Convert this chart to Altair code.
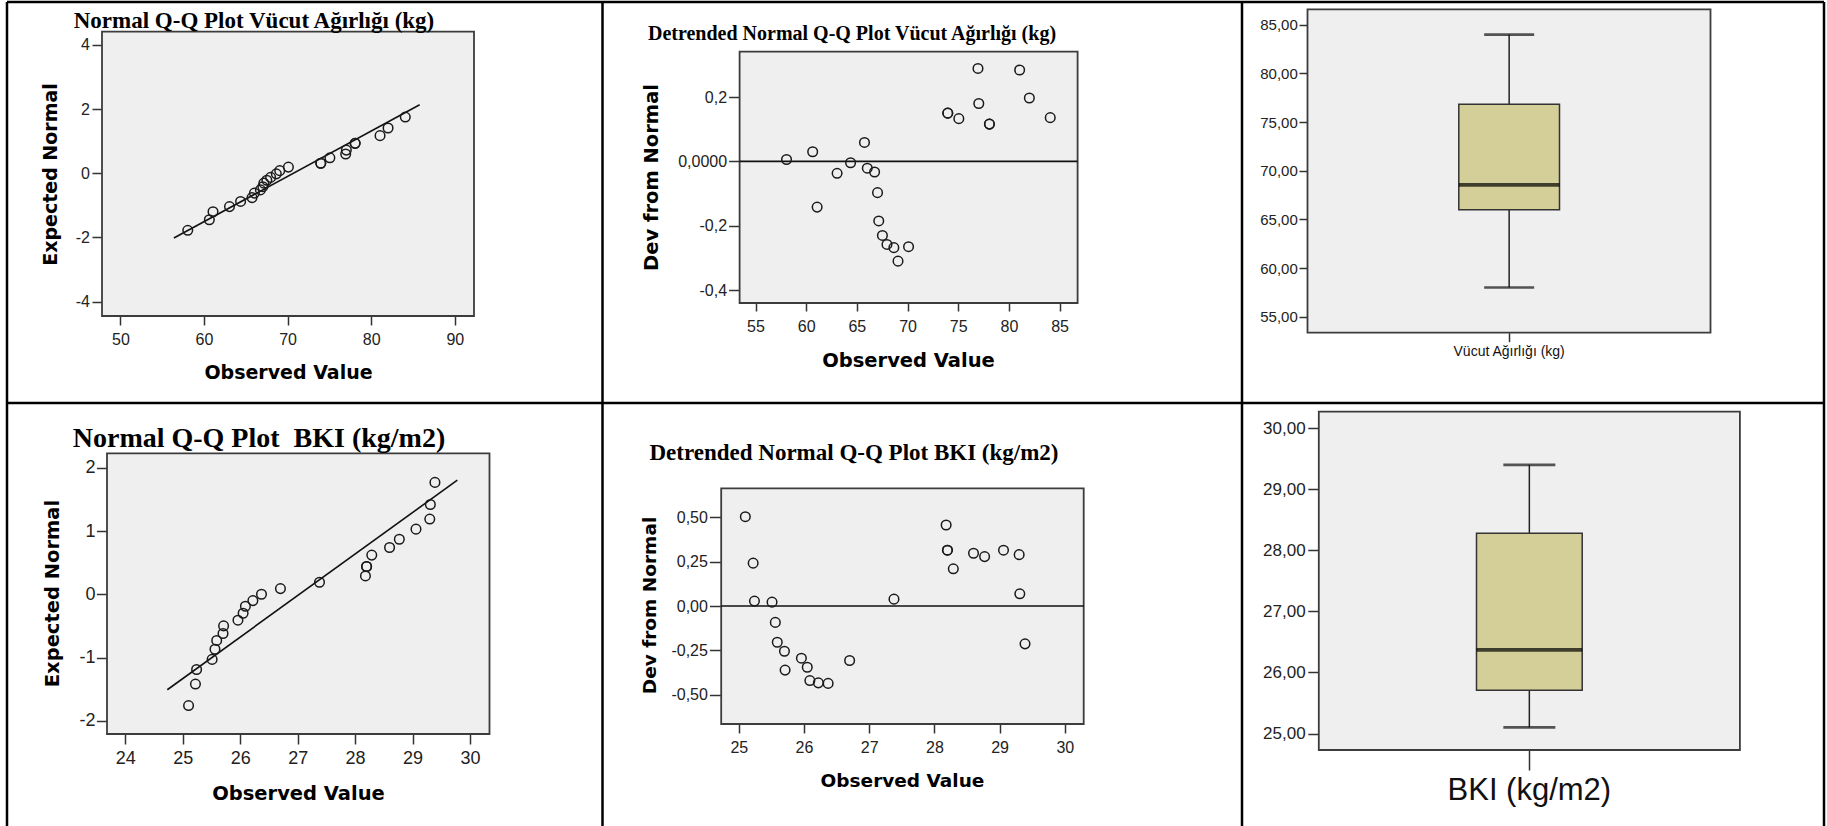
import altair as alt
import pandas as pd

# ---------------- Vücut Ağırlığı (kg) ----------------
vucut_observed = [58.06, 60.64, 61.08, 63.05, 64.38, 65.75, 66.03, 66.75, 67.04, 67.16,
                  67.52, 67.97, 68.65, 69.06, 70.10, 73.97, 73.97, 75.06, 76.95, 77.03,
                  78.08, 78.08, 81.06, 82.02, 84.08]
vucut_expected = [-1.78, -1.45, -1.20, -1.04, -0.88, -0.76, -0.62, -0.52, -0.42, -0.31,
                  -0.22, -0.13, -0.02, 0.08, 0.19, 0.31, 0.31, 0.48, 0.60, 0.72,
                  0.93, 0.93, 1.17, 1.41, 1.75]
vucut_deviation = [0.006, 0.030, -0.142, -0.037, -0.004, 0.059, -0.021, -0.033, -0.097, -0.185,
                   -0.230, -0.258, -0.268, -0.310, -0.265, 0.150, 0.150, 0.133, 0.289, 0.180,
                   0.116, 0.116, 0.284, 0.197, 0.136]
vucut_line_observed = [56.4, 85.8]
vucut_line_expected = [-2.02, 2.135]
# min, Q1, median, Q3, max
vucut_box = [58.0, 66.0, 68.55, 76.85, 84.0]

# ---------------- BKI (kg/m2) ----------------
bki_observed = [25.10, 25.22, 25.24, 25.51, 25.56, 25.59, 25.70, 25.71, 25.96, 26.05,
                26.09, 26.22, 26.37, 26.70, 27.38, 28.18, 28.20, 28.20, 28.29, 28.60,
                28.77, 29.06, 29.30, 29.31, 29.39]
bki_expected = [-1.76, -1.42, -1.19, -1.03, -0.87, -0.73, -0.62, -0.50, -0.41, -0.30,
                -0.19, -0.10, 0.00, 0.09, 0.19, 0.29, 0.44, 0.44, 0.62, 0.74,
                0.87, 1.03, 1.19, 1.42, 1.77]
bki_deviation = [0.504, 0.242, 0.028, 0.022, -0.092, -0.204, -0.255, -0.361, -0.294, -0.345,
                 -0.420, -0.433, -0.436, -0.307, 0.039, 0.457, 0.315, 0.315, 0.210, 0.298,
                 0.279, 0.315, 0.290, 0.069, -0.213]
bki_line_observed = [24.73, 29.78]
bki_line_expected = [-1.51, 1.805]
bki_box = [25.10, 25.71, 26.37, 28.28, 29.40]

W, H = 1827, 826
SANS = "DejaVu Sans"
TICK_FONT = "Liberation Sans"
SERIF = "Liberation Serif"
PLOT_BG = "#efefef"
FRAME = "#3c3c3c"
BOX_FILL = "#d4cf98"


def signed(decimals, comma=True):
    body = f"format(abs(datum.value), '.{decimals}f')"
    if comma:
        body = f"replace({body}, '.', ',')"
    return f"(datum.value < 0 ? '-' : '') + {body}"


def one_row():
    return pd.DataFrame({"k": [0]})


def frame_layer(left, top, right, bottom):
    return alt.Chart(one_row()).mark_rect(fill=PLOT_BG, stroke=FRAME, strokeWidth=1.8).encode(
        x=alt.value(left), x2=alt.value(right), y=alt.value(top), y2=alt.value(bottom))


def text_layer(text, x, y, size, font=SERIF, weight="bold"):
    return alt.Chart(pd.DataFrame({"label": [text]})).mark_text(
        font=font, fontSize=size, fontWeight=weight, align="center", baseline="alphabetic",
        color="#000").encode(text="label:N", x=alt.value(x), y=alt.value(y))


def rule_layer(x1, y1, x2, y2, width=2.5):
    return alt.Chart(one_row()).mark_rule(color="#000", strokeWidth=width).encode(
        x=alt.value(x1), x2=alt.value(x2), y=alt.value(y1), y2=alt.value(y2))


def axis_common(tick_font, title_size):
    return dict(domain=False, grid=False, ticks=True, tickColor="#333", tickWidth=1.5,
                labelColor="#222", labelFont=TICK_FONT, labelFontSize=tick_font,
                labelFlush=False, labelOverlap=False, titleFont=SANS, titleFontWeight="bold",
                titleFontSize=title_size, titleColor="#000")


def scatter_panel(frame, xdom, ydom, xticks, yticks, xlab, ylab, x_vals, y_vals, ytitle,
                  x_title_at, y_title_at, tick_font, title_size, x_tick, y_tick, x_pad, y_pad,
                  line=None, zero_rule=False):
    left, top, right, bottom = frame
    xs = alt.Scale(domain=xdom, range=[left, right], nice=False, zero=False)
    ys = alt.Scale(domain=ydom, range=[bottom, top], nice=False, zero=False)
    common = axis_common(tick_font, title_size)
    xa = alt.Axis(orient="bottom", offset=bottom - H, values=xticks, labelExpr=xlab,
                  tickSize=x_tick, labelPadding=x_pad, title="Observed Value",
                  titleX=x_title_at[0], titleY=x_title_at[1] - bottom,
                  titleAlign="center", titleBaseline="middle", **common)
    ya = alt.Axis(orient="left", offset=-left, values=yticks, labelExpr=ylab,
                  tickSize=y_tick, labelPadding=y_pad, title=ytitle,
                  titleX=y_title_at[0] - left, titleY=y_title_at[1],
                  titleAngle=270, titleAlign="center", titleBaseline="middle", **common)
    layers = [frame_layer(left, top, right, bottom)]
    if zero_rule:
        layers.append(alt.Chart(one_row()).mark_rule(color="#111", strokeWidth=1.6).encode(
            x=alt.value(left), x2=alt.value(right),
            y=alt.YDatum(0, type="quantitative", scale=ys, axis=ya)))
    if line is not None:
        ldf = pd.DataFrame({"obs": line[0], "exp": line[1]})
        layers.append(alt.Chart(ldf).mark_line(color="#111", strokeWidth=1.6).encode(
            x=alt.X("obs:Q", scale=xs, axis=xa), y=alt.Y("exp:Q", scale=ys, axis=ya)))
    pdf = pd.DataFrame({"obs": x_vals, "val": y_vals})
    layers.append(alt.Chart(pdf).mark_point(shape="circle", filled=False, size=92,
                                            color="#1a1a1a", strokeWidth=1.5, opacity=1).encode(
        x=alt.X("obs:Q", scale=xs, axis=xa), y=alt.Y("val:Q", scale=ys, axis=ya)))
    return alt.layer(*layers)


def box_panel(name, stats, frame, box_span, ydom, yticks, tick_font, label_size, x_tick, x_pad,
              y_tick, y_pad, cap_len):
    left, top, right, bottom = frame
    df = pd.DataFrame({"variable": [name], "low": [stats[0]], "q1": [stats[1]],
                       "median": [stats[2]], "q3": [stats[3]], "high": [stats[4]]})
    # the single band is exactly the box width; its centre carries the axis tick
    xs = alt.Scale(type="band", domain=[name], range=list(box_span), paddingInner=0, paddingOuter=0)
    ys = alt.Scale(domain=ydom, range=[bottom, top], nice=False, zero=False)
    xa = alt.Axis(orient="bottom", offset=bottom - H, domain=False, grid=False, tickSize=x_tick,
                  tickColor="#333", tickWidth=1.5, labelFont=TICK_FONT, labelFontSize=label_size,
                  labelColor="#111", labelPadding=x_pad, labelAngle=0, title=None)
    ya = alt.Axis(orient="left", offset=-left, values=yticks, labelExpr=signed(2),
                  tickSize=y_tick, labelPadding=y_pad, title=None,
                  **axis_common(tick_font, 14))
    x = alt.X("variable:N", scale=xs, axis=xa)
    base = alt.Chart(df)
    med_len = box_span[1] - box_span[0]
    return alt.layer(
        frame_layer(left, top, right, bottom),
        base.mark_rule(color="#222", strokeWidth=1.5).encode(
            x=x, y=alt.Y("low:Q", scale=ys, axis=ya), y2="q1"),
        base.mark_rule(color="#222", strokeWidth=1.5).encode(
            x=x, y=alt.Y("q3:Q", scale=ys, axis=ya), y2="high"),
        base.mark_bar(fill=BOX_FILL, stroke="#333", strokeWidth=1.5).encode(
            x=x, y=alt.Y("q1:Q", scale=ys, axis=ya), y2="q3"),
        base.mark_tick(color="#111", thickness=2.6, size=cap_len).encode(
            x=x, y=alt.Y("low:Q", scale=ys, axis=ya)),
        base.mark_tick(color="#111", thickness=2.6, size=cap_len).encode(
            x=x, y=alt.Y("high:Q", scale=ys, axis=ya)),
        base.mark_tick(color="#000", thickness=3.6, size=med_len).encode(
            x=x, y=alt.Y("median:Q", scale=ys, axis=ya)),
    )


int_labels = signed(0, comma=False)

p1 = scatter_panel((102, 31.7, 474, 316), [47.8, 92.3], [-4.45, 4.41],
                   [50, 60, 70, 80, 90], [-4, -2, 0, 2, 4], int_labels, int_labels,
                   vucut_observed, vucut_expected, "Expected Normal",
                   (288, 372), (50.6, 174), 16, 19, 9, 10, 6, 2.5,
                   line=(vucut_line_observed, vucut_line_expected))

p2 = scatter_panel((739.6, 51.7, 1077.6, 303), [53.43, 86.78], [-0.44, 0.341],
                   [55, 60, 65, 70, 75, 80, 85], [-0.4, -0.2, 0, 0.2], int_labels,
                   "datum.value == 0 ? '0,0000' : " + signed(1),
                   vucut_observed, vucut_deviation, "Dev from Normal",
                   (908, 360), (651, 177), 16, 19.5, 8, 11, 7, 2,
                   zero_rule=True)

p3 = box_panel("Vücut Ağırlığı (kg)", vucut_box, (1307.5, 9.3, 1710.5, 332.7), (1458.8, 1559.5),
               [53.35, 86.6], [55, 60, 65, 70, 75, 80, 85], 15, 14, 9, 3, 8.5, 1.7, 50)

p4 = scatter_panel((107, 453.3, 489.5, 734), [23.68, 30.34], [-2.21, 2.23],
                   [24, 25, 26, 27, 28, 29, 30], [-2, -1, 0, 1, 2], int_labels, int_labels,
                   bki_observed, bki_expected, "Expected Normal",
                   (298, 793), (52.5, 593), 18, 19.5, 10, 10.6, 5, 1.5,
                   line=(bki_line_observed, bki_line_expected))

p5 = scatter_panel((721.2, 488.3, 1083.7, 724), [24.73, 30.29], [-0.665, 0.664],
                   [25, 26, 27, 28, 29, 30], [-0.5, -0.25, 0, 0.25, 0.5], int_labels, signed(2),
                   bki_observed, bki_deviation, "Dev from Normal",
                   (902, 780), (649, 605), 16, 18.5, 9, 11.8, 6, 2,
                   zero_rule=True)

p6 = box_panel("BKI (kg/m2)", bki_box, (1318.8, 411.7, 1739.9, 750), (1476.5, 1582.2),
               [24.73, 30.27], [25, 26, 27, 28, 29, 30], 17, 31, 20, 5, 11, 2.7, 52)

titles = [
    text_layer("Normal Q-Q Plot Vücut Ağırlığı (kg)", 254, 28, 23),
    text_layer("Detrended Normal Q-Q Plot Vücut Ağırlığı (kg)", 852, 39.5, 20),
    text_layer("Normal Q-Q Plot \u00a0BKI (kg/m2)", 259, 447, 28),
    text_layer("Detrended Normal Q-Q Plot BKI (kg/m2)", 854, 460, 23),
]

# table grid around the six cells
grid = [
    rule_layer(7, 2, 1824, 2),
    rule_layer(7, 403, 1824, 403),
    rule_layer(7, 2, 7, H),
    rule_layer(602.5, 2, 602.5, H),
    rule_layer(1242, 2, 1242, H),
    rule_layer(1824, 2, 1824, H),
]

chart = alt.layer(p1, p2, p3, p4, p5, p6, *titles, *grid).resolve_scale(
    x="independent", y="independent"
).resolve_axis(
    x="independent", y="independent"
).properties(
    width=W, height=H, padding=0, background="white",
    autosize=alt.AutoSizeParams(type="none"),
).configure_view(strokeWidth=0)

chart.save("out.html", embed_options={"renderer": "svg", "actions": False})
